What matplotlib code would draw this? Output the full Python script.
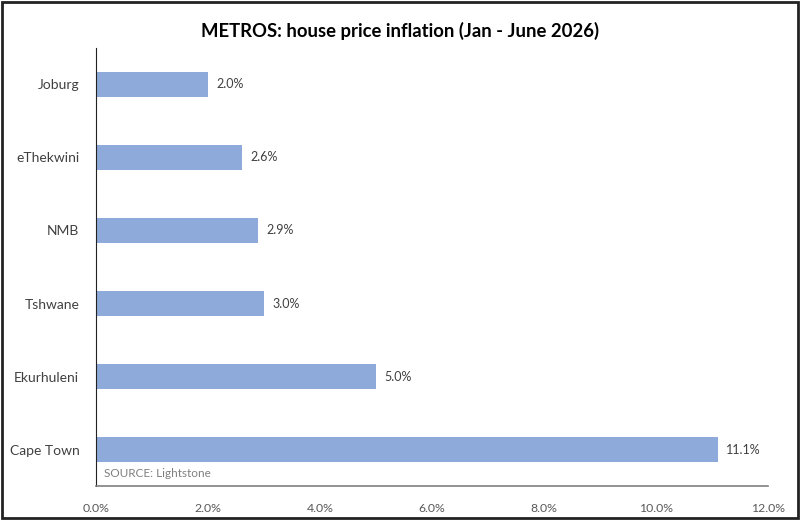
import matplotlib.pyplot as plt
from matplotlib.patches import Rectangle
from matplotlib.ticker import FuncFormatter

# Data
metros = ["Joburg", "eThekwini", "NMB", "Tshwane", "Ekurhuleni", "Cape Town"]
inflation = [2.0, 2.6, 2.9, 3.0, 5.0, 11.1]
x_ticks = [0, 2, 4, 6, 8, 10, 12]

plt.rcParams['font.family'] = ['Lato', 'DejaVu Sans']

fig = plt.figure(figsize=(8, 5.2), dpi=100)
ax = fig.add_axes([0.12, 0.065, 0.84, 0.843])

pos = list(range(len(metros)))
ax.barh(pos, inflation, height=0.34, color="#8eaadb")
for p, v in zip(pos, inflation):
    ax.text(v + 0.15, p, "%.1f%%" % v, va="center", ha="left",
            fontsize=9, color="#404040")

ax.set_yticks(pos)
ax.set_yticklabels(metros, fontsize=10, color="#404040")
ax.set_ylim(5.5, -0.5)
ax.set_xlim(0, 12)
ax.set_xticks(x_ticks)
ax.xaxis.set_major_formatter(FuncFormatter(lambda x, _: "%.1f%%" % x))
ax.tick_params(axis="x", labelsize=8.8, labelcolor="#595959", length=0, pad=12)
ax.tick_params(axis="y", length=0, pad=12)

for s in ["top", "right"]:
    ax.spines[s].set_visible(False)
ax.spines["left"].set_color("#222222")
ax.spines["bottom"].set_color("#7f7f7f")
ax.spines["bottom"].set_linewidth(1.2)

ax.text(0.15, 5.33, "SOURCE: Lightstone", fontsize=8.5, color="#7f7f7f",
        va="center", ha="left")

fig.suptitle("METROS: house price inflation (Jan - June 2026)",
             fontsize=13.3, fontweight="bold", y=0.958, x=0.5)

# frame around the whole picture
fig.patches.append(Rectangle((0.002, 0.003), 0.996, 0.994, transform=fig.transFigure,
                             fill=False, edgecolor="#222222", linewidth=2))

fig.savefig("out.png", dpi=100)
